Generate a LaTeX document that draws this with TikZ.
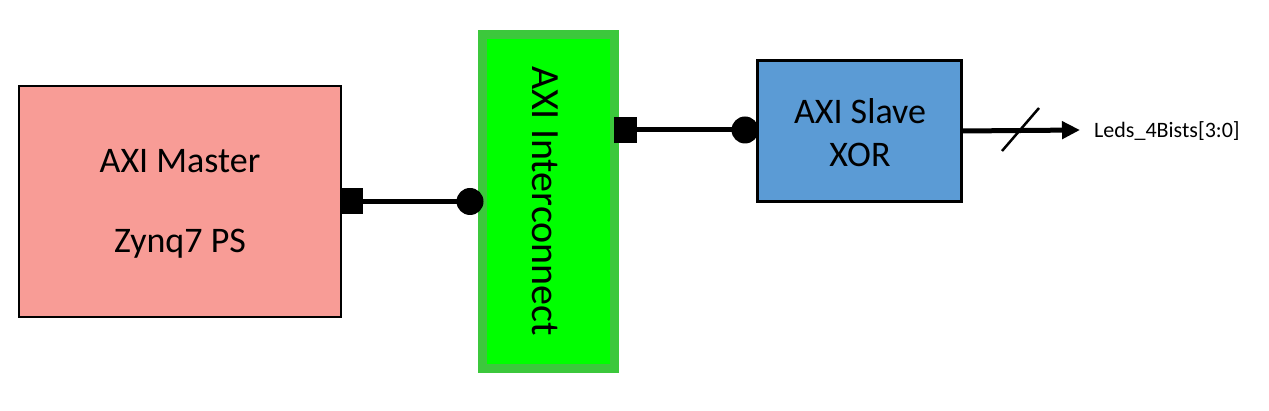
\documentclass[tikz,border=0pt]{standalone}
\usepackage{fontspec}
\setmainfont{Carlito}
\usetikzlibrary{arrows.meta}
\definecolor{pinkfill}{HTML}{F89C96}
\definecolor{greenfill}{HTML}{00FF00}
\definecolor{greenborder}{HTML}{3CC83C}
\definecolor{bluefill}{HTML}{5B9BD5}
\begin{document}
\begin{tikzpicture}[x=1pt,y=-1pt,
  blk/.style={draw=black,line width=2.5pt,inner sep=0pt},
  bigtext/.style={font=\fontsize{36}{42}\selectfont},
  port/.style={fill=black,draw=none,minimum width=23pt,minimum height=26pt,inner sep=0pt},
  dot/.style={circle,fill=black,draw=none,minimum size=27pt,inner sep=0pt},
  wire/.style={line width=5pt}]
\useasboundingbox (0,0) rectangle (1269,411);
% boxes
\node[blk,fill=pinkfill,minimum width=322pt,minimum height=231pt] (master) at (180,201.5) {};
\node[bigtext] (mt1) at (180,161) {AXI Master};
\node[bigtext] (mt2) at (180,244) {Zynq7 PS};
\node[draw=greenborder,line width=9pt,fill=greenfill,minimum width=132pt,minimum height=334pt,inner sep=0pt] (ic) at (548.5,201.5) {};
\node[font=\fontsize{40}{46}\selectfont,rotate=-90] (ict) at (545,201) {AXI Interconnect};
\node[blk,fill=bluefill,minimum width=204pt,minimum height=141pt] (slave) at (859.5,131) {};
\node[bigtext] (st1) at (860,111) {AXI Slave};
\node[bigtext] (st2) at (860,155) {XOR};
% ports
\node[port] (p1) at (351.5,201.5) {};
\node[dot] (d1) at (470,201.5) {};
\node[port] (p2) at (625,130) {};
\node[dot] (d2) at (745,130) {};
\draw[wire] (p1.center) -- (d1.center);
\draw[wire] (p2.center) -- (d2.center);
% output
\coordinate (oend) at (1080,130);
\draw[wire,-{Triangle[length=18pt,width=17pt]}] (slave.east) -- (oend);
\coordinate (s1) at (1002,151);
\coordinate (s2) at (1039,108);
\draw[line width=2.5pt] (s1) -- (s2);
\node[anchor=west,font=\fontsize{22}{26}\selectfont,inner sep=0pt] (lbl) at (1094,131) {Leds\_4Bists[3:0]};
\end{tikzpicture}
\end{document}
